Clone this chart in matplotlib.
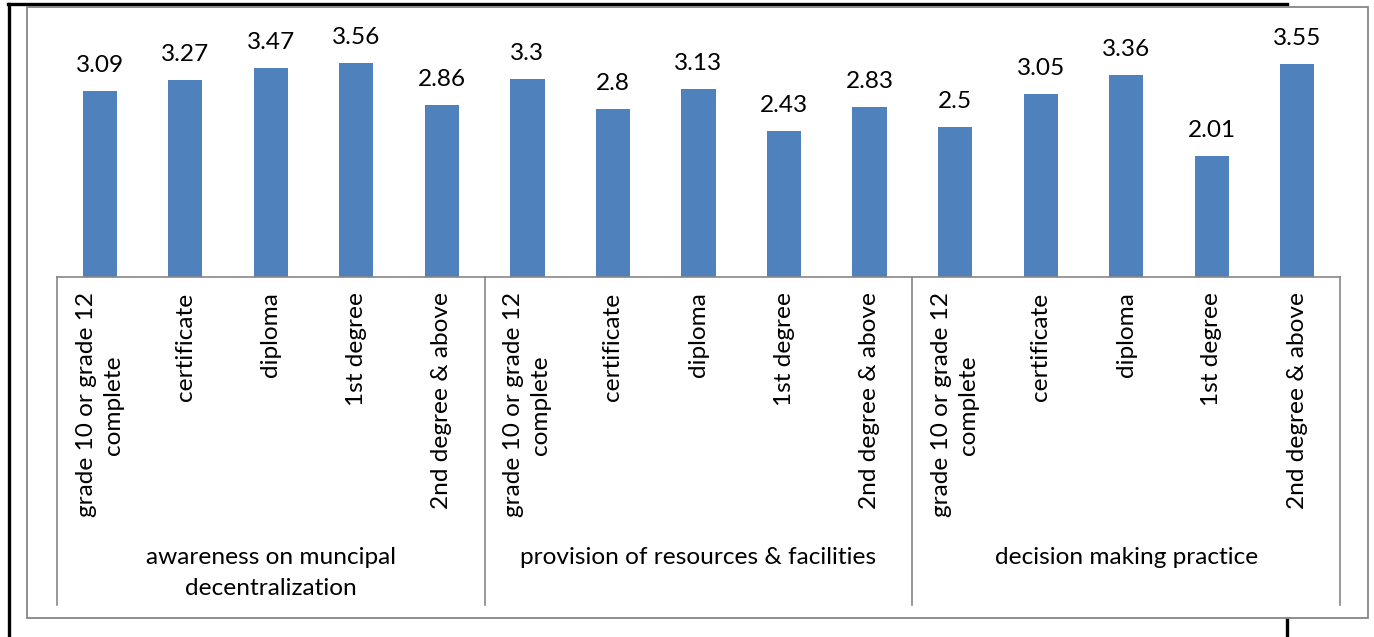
import matplotlib.pyplot as plt
from matplotlib.lines import Line2D
from matplotlib.patches import Rectangle

plt.rcParams["font.family"] = ["Lato", "DejaVu Sans"]

groups = ["awareness on muncipal\ndecentralization",
          "provision of resources & facilities",
          "decision making practice"]
levels = ["grade 10 or grade 12\ncomplete", "certificate", "diploma",
          "1st degree", "2nd degree & above"]
awareness = [3.09, 3.27, 3.47, 3.56, 2.86]
provision = [3.3, 2.8, 3.13, 2.43, 2.83]
decision = [2.5, 3.05, 3.36, 2.01, 3.55]

values = awareness + provision + decision
labels = levels * len(groups)
xs = list(range(len(values)))

W, H = 1374, 637
FS = 17.6
fig = plt.figure(figsize=(W / 100, H / 100), dpi=100)

# page borders (black) behind the chart
black = dict(color="black", lw=2.4, zorder=0)
fig.add_artist(Line2D([8 / W, 1287 / W], [1 - 4 / H, 1 - 4 / H], **black))
fig.add_artist(Line2D([9 / W, 9 / W], [1 - 4 / H, 0], **black))
fig.add_artist(Line2D([1287 / W, 1287 / W], [1 - 8 / H, 0], **black))

# chart frame
fig.add_artist(Rectangle((27 / W, 1 - 618 / H), (1368 - 27) / W, (618 - 7) / H,
                         facecolor="white", edgecolor="#868686", lw=1.3, zorder=0.5))

ax = fig.add_axes([57 / W, 1 - 277 / H, (1340 - 57) / W, 240.4 / H], zorder=1)
ax.patch.set_alpha(0)
ax.bar(xs, values, width=0.4, color="#4F81BD")
for x, v in zip(xs, values):
    ax.text(x, v + 0.25, f"{v:g}", ha="center", va="bottom", fontsize=FS)

ax.set_xlim(-0.5, len(values) - 0.5)
ax.set_ylim(0, 4)
for s in ["top", "left", "right"]:
    ax.spines[s].set_visible(False)
ax.spines["bottom"].set_color("#868686")
ax.spines["bottom"].set_linewidth(1.2)
ax.set_yticks([])
ax.set_xticks(xs)
ax.set_xticklabels(labels, rotation=90, fontsize=FS, va="top", ha="center",
                   multialignment="center", linespacing=1.35)
ax.tick_params(axis="x", length=0, pad=11)

# group separators and group labels
trans = ax.get_xaxis_transform()
for b in range(len(groups) + 1):
    xb = b * len(levels) - 0.5
    ax.plot([xb, xb], [0, -328 / 240.4], color="#868686", lw=1.2,
            transform=trans, clip_on=False)
for g, name in enumerate(groups):
    xc = g * len(levels) + (len(levels) - 1) / 2
    ax.text(xc, -(547 - 277) / 240.4, name, transform=trans, ha="center",
            va="top", fontsize=FS, linespacing=1.6)

fig.savefig("out.png", dpi=100)
